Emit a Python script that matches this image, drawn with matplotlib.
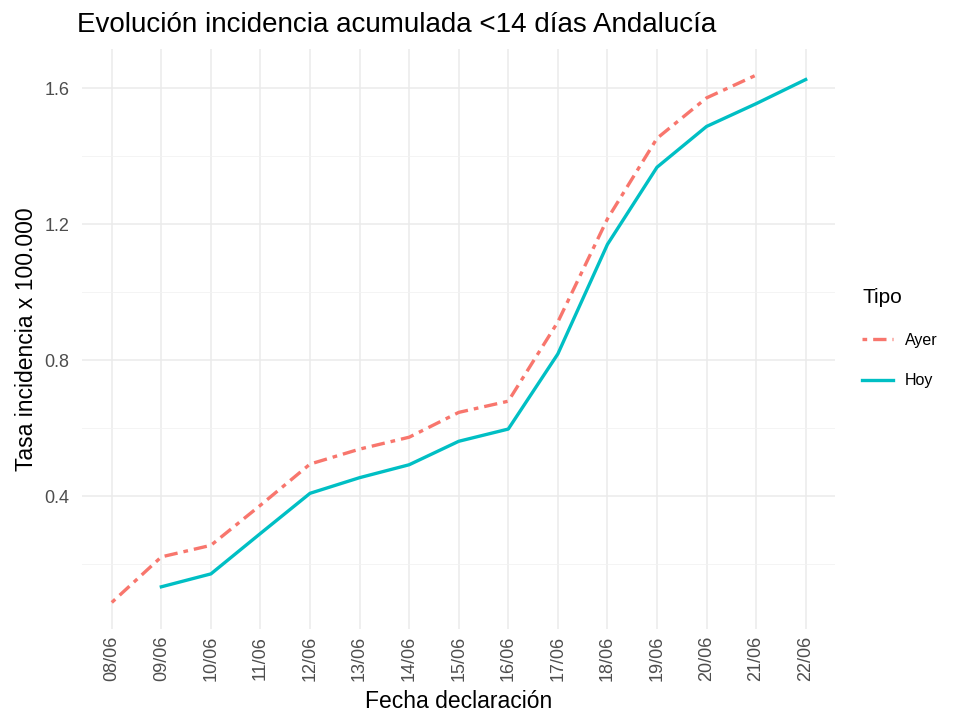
import matplotlib
matplotlib.use("Agg")
import matplotlib.pyplot as plt
from matplotlib.lines import Line2D

plt.rcParams['font.family'] = ['Liberation Sans', 'DejaVu Sans']

fechas = ["08/06", "09/06", "10/06", "11/06", "12/06", "13/06", "14/06", "15/06",
          "16/06", "17/06", "18/06", "19/06", "20/06", "21/06", "22/06"]
ayer_fechas = fechas[0:14]
ayer = [0.087, 0.221, 0.255, 0.373, 0.494, 0.538, 0.573, 0.646, 0.679, 0.912,
        1.215, 1.452, 1.571, 1.638]
hoy_fechas = fechas[1:15]
hoy = [0.133, 0.171, 0.290, 0.408, 0.454, 0.492, 0.561, 0.597, 0.818, 1.140,
       1.367, 1.487, 1.554, 1.625]
yticks = [0.4, 0.8, 1.2, 1.6]
yminor = [0.2, 0.6, 1.0, 1.4]

c_ayer = "#F8766D"
c_hoy = "#00BFC4"

fig = plt.figure(figsize=(9.63, 7.17), dpi=100)
ax = fig.add_axes([0.0852, 0.123, 0.7823, 0.809])

idx = {f: i for i, f in enumerate(fechas)}
xa = [idx[f] for f in ayer_fechas]
xh = [idx[f] for f in hoy_fechas]

lw = 2.4
dash = (1.4, 1.8, 4.0, 1.8)
ax.plot(xa, ayer, color=c_ayer, lw=lw, dashes=dash, dash_capstyle='butt', zorder=3)
ax.plot(xh, hoy, color=c_hoy, lw=lw, zorder=3)

ymin = min(min(ayer), min(hoy)); ymax = max(max(ayer), max(hoy))
pad = (ymax - ymin) * 0.05
ax.set_ylim(ymin - pad, ymax + pad)
ax.set_xlim(-0.6, len(fechas) - 1 + 0.6)

ax.set_xticks(range(len(fechas)))
ax.set_xticklabels(fechas, rotation=90, fontsize=13, color="#4D4D4D")
ax.set_yticks(yticks)
ax.set_yticklabels([f"{v:.1f}" for v in yticks], fontsize=13, color="#4D4D4D")
ax.set_yticks(yminor, minor=True)
ax.tick_params(axis='x', which='both', length=0, pad=5)
ax.tick_params(axis='y', which='both', length=0, pad=9)

ax.grid(True, which='major', color="#EBEBEB", lw=1.1)
ax.grid(True, which='minor', axis='y', color="#F2F2F2", lw=0.6)
ax.set_axisbelow(True)
for s in ax.spines.values():
    s.set_visible(False)

ax.set_xlabel("Fecha declaración", fontsize=16.5, labelpad=6)
ax.set_ylabel("Tasa incidencia x 100.000", fontsize=16.5, labelpad=5)
fig.text(0.080, 0.955, "Evolución incidencia acumulada <14 días Andalucía", fontsize=20,
         ha='left', va='baseline')

handles = [Line2D([], [], color=c_ayer, lw=lw, dashes=dash),
           Line2D([], [], color=c_hoy, lw=lw)]
leg = fig.legend(handles, ["Ayer", "Hoy"], title="Tipo", loc='upper left',
                 bbox_to_anchor=(0.887, 0.609), frameon=False, fontsize=11.5,
                 title_fontsize=15, handlelength=1.9, labelspacing=1.6,
                 handletextpad=0.75, borderpad=0.5, borderaxespad=0)
leg._legend_box.align = "left"

fig.savefig("out.png", dpi=100)
